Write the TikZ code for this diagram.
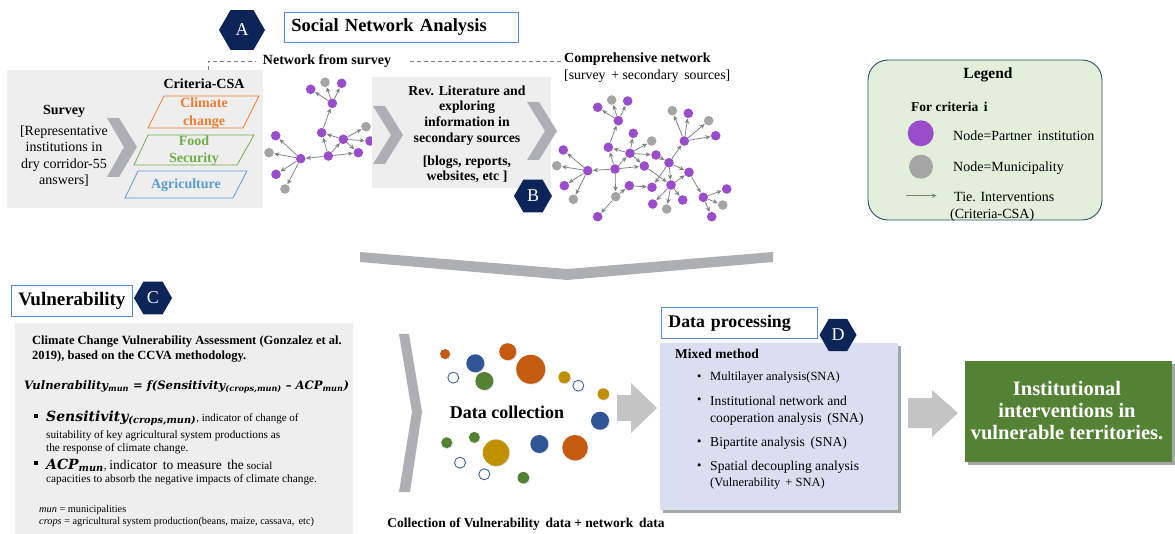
\documentclass[tikz,border=0pt]{standalone}
\usepackage{fontspec}
\setmainfont{Liberation Serif}
\newfontfamily\fbi{DejaVu Serif}
\usetikzlibrary{shapes.geometric,arrows.meta,shadows}
\definecolor{navy}{HTML}{0C2457}
\definecolor{tbblue}{HTML}{5B8BD0}
\definecolor{lgray}{HTML}{EEEEEE}
\definecolor{chev}{HTML}{ADAFB2}
\definecolor{purp}{HTML}{9A4DCB}
\definecolor{ngray}{HTML}{A5A5A5}
\definecolor{tiegray}{HTML}{7F7F7F}
\definecolor{orng}{HTML}{ED7D31}
\definecolor{grn}{HTML}{70AD47}
\definecolor{blu}{HTML}{5B9BD5}
\definecolor{leggreen}{HTML}{E2EFDA}
\definecolor{legborder}{HTML}{2E4A6B}
\definecolor{dor}{HTML}{C55A11}
\definecolor{dbl}{HTML}{2F5597}
\definecolor{dgr}{HTML}{548235}
\definecolor{dye}{HTML}{BF9000}
\definecolor{lav}{HTML}{D9DEF0}
\definecolor{arrgray}{HTML}{C4C4C4}
\tikzset{
  hexa/.style={regular polygon, regular polygon sides=6, fill=navy, draw=none, text=white, inner sep=0pt, font=\fontsize{18}{18}\selectfont},
  titlebox/.style={draw=tbblue, line width=0.9pt, fill=white, anchor=north west, inner xsep=7pt, inner ysep=0pt, align=left},
  netnode/.style={circle, inner sep=0pt, minimum size=9.6pt, draw=none},
  tie/.style={draw=tiegray, line width=0.75pt, -{Stealth[length=5pt,width=4.4pt]}, shorten >=0.3pt},
  chevshape/.style={fill=chev, draw=none},
  txt/.style={inner sep=0pt, font=\fontsize{13.5}{16}\selectfont},
  btxt/.style={inner sep=0pt, font=\fontsize{13.5}{16}\selectfont\bfseries},
  small/.style={inner sep=0pt, anchor=west, font=\fontsize{11}{13}\selectfont},
  dot/.style={circle, inner sep=0pt, draw=none},
  hollow/.style={circle, inner sep=0pt, draw=dbl, line width=0.8pt, fill=white, minimum size=11pt},
  dashline/.style={draw=gray, dashed, line width=0.7pt, dash pattern=on 4pt off 3pt},
  blockarrow/.style={fill=arrgray, draw=none},
}
\newcommand\vbi{\fbi\bfseries\itshape}
\begin{document}
\begin{tikzpicture}[x=1pt,y=-1pt]
\useasboundingbox (0,0) rectangle (1175,534);

% ---------------- Top: Social network analysis
\node[hexa, minimum size=46pt] (hexA) at (242,30) {A};
\node[titlebox, minimum width=234pt, minimum height=30pt, text width=220pt, font=\fontsize{18.5}{20}\selectfont\bfseries] (snatitle) at (284,12) {Social Network Analysis};

% survey box
\fill[lgray] (7,70) rectangle (263,208);
\node[btxt, font=\fontsize{14}{16}\selectfont\bfseries] (survey) at (64,111) {Survey};
\node[txt, align=center, font=\fontsize{14}{16.3}\selectfont] (surveytxt) at (64,156) {[Representative\\institutions in\\dry corridor-55\\answers]};
\fill[chevshape] (107,118) -- (119,118) -- (137,147) -- (119,177) -- (107,177) -- (124,147) -- cycle;
\node[btxt, font=\fontsize{14}{16}\selectfont\bfseries] (crit) at (204,84) {Criteria-CSA};
\draw[orng, line width=0.8pt] (164,96) -- (259,96) -- (243,128) -- (148,128) -- cycle;
\node[btxt, align=center, text=orng, font=\fontsize{14}{17.5}\selectfont\bfseries] (cc) at (204,113) {Climate\\change};
\draw[grn, line width=0.8pt] (148,135) -- (254,135) -- (237,165) -- (134,165) -- cycle;
\node[btxt, align=center, text=grn, font=\fontsize{14}{17}\selectfont\bfseries] (fs) at (194,150.5) {Food\\Security};
\draw[blu, line width=0.8pt] (138,171) -- (247,171) -- (233,198) -- (125,198) -- cycle;
\node[btxt, text=blu, font=\fontsize{14}{16}\selectfont\bfseries] (agr) at (186,185) {Agriculture};

% dashed leaders
\coordinate (d1a) at (208,70);
\coordinate (d1b) at (208,61);
\coordinate (d1c) at (256,61);
\draw[dashline] (d1a) -- (d1b) -- (d1c);
\node[btxt, font=\fontsize{14}{15}\selectfont\bfseries] (netsurvey) at (327,61) {Network from survey};
\coordinate (d2a) at (410,61);
\coordinate (d2b) at (562,61);
\draw[dashline] (d2a) -- (d2b);
\node[btxt, anchor=west, font=\fontsize{14}{15}\selectfont\bfseries] (compnet) at (564,59) {Comprehensive network};
\node[txt, anchor=west, font=\fontsize{13.8}{15}\selectfont] (compsub) at (564,76) {[survey \,+ secondary \,sources]};

% network 1
\foreach \n/\x/\y/\c in {1/310.7/89.3/purp, 2/325/82.3/ngray, 3/341.7/83.3/purp, 4/332.3/103.3/purp, 5/321.7/132.7/purp, 6/366/126.7/ngray, 7/343.3/139.3/purp, 8/370/141/purp, 9/358.3/152.7/purp, 10/328.3/156/purp, 11/300.7/158.7/purp, 12/275.7/135.7/purp, 13/269/152.7/ngray, 14/276/174.3/purp, 15/285/189/ngray}
  \node[netnode, fill=\c] (n\n) at (\x,\y) {};
\foreach \a/\b in {4/1, 4/2, 4/3, 5/4, 7/5, 10/5, 10/7, 7/6, 7/8, 7/9, 10/9, 10/11, 11/12, 11/13, 11/14, 11/15}
  \draw[tie] (n\a) -- (n\b);

% box B
\fill[lgray] (372,77) rectangle (551,188);
\fill[chevshape] (373,106) -- (385,106) -- (403,135) -- (385,164) -- (373,164) -- (391,135) -- cycle;
\fill[chevshape] (527,102) -- (539,102) -- (557,131) -- (539,160) -- (527,160) -- (545,131) -- cycle;
\node[btxt, align=center, font=\fontsize{13.8}{15.6}\selectfont\bfseries] (revlit) at (467,115.5) {Rev. Literature and\\exploring\\information in\\secondary sources};
\node[btxt, align=center, font=\fontsize{13.8}{15.5}\selectfont\bfseries] (blogs) at (467,169.5) {[blogs, reports,\\websites, etc ]};
\node[hexa, minimum size=38pt] (hexB) at (533,196) {B};

% network 2
\foreach \n/\x/\y/\c in {1/597.7/107.3/purp, 2/611.7/100/ngray, 3/627.7/101/purp, 4/618.3/120.7/purp, 5/633.3/133.3/purp, 6/651.7/141/ngray, 7/608.3/147.3/purp, 8/630/153.3/purp, 9/656/155/purp, 10/563.3/150/purp, 11/556.7/165.7/ngray, 12/587.7/170.7/purp, 13/615/169/purp, 14/644.3/166/purp, 15/564.3/185.7/purp, 16/573.3/199.3/ngray, 17/615.7/196.7/ngray, 18/629.3/185.7/purp, 19/597.7/216.7/purp, 20/652/187.3/purp, 21/669/162.7/purp, 22/671/185/purp, 23/689/172.3/purp, 24/684.3/141/purp, 25/672.3/110.7/ngray, 26/688.3/113.3/purp, 27/708.7/120.7/ngray, 28/715.7/135.7/purp, 29/652.7/204/purp, 30/666.7/209/ngray, 31/682.7/200/purp, 32/703.3/197.3/purp, 33/726.7/189/purp, 34/722.7/205/ngray, 35/711.7/216.7/purp}
  \node[netnode, fill=\c] (m\n) at (\x,\y) {};
\foreach \a/\b in {4/1, 4/2, 4/3, 7/4, 8/5, 8/6, 8/7, 13/7, 13/8, 8/9, 9/21, 13/12, 12/10, 12/11, 12/15, 12/16, 13/14, 13/17, 17/18, 17/19, 18/20, 8/14, 21/24, 24/25, 24/26, 24/27, 24/28, 21/23, 21/20, 21/22, 14/22, 22/23, 22/29, 22/30, 22/31, 23/32, 32/33, 32/34, 32/35}
  \draw[tie] (m\a) -- (m\b);

% legend
\node[draw=legborder, fill=leggreen, rounded corners=20pt, line width=0.9pt, minimum width=234pt, minimum height=160pt, inner sep=0pt] (legend) at (985,140) {};
\node[btxt, font=\fontsize{15.5}{18}\selectfont\bfseries] (legtitle) at (988,75) {Legend};
\node[btxt, anchor=west, font=\fontsize{13.5}{15}\selectfont\bfseries] (forcrit) at (911,107) {For criteria \,i};
\node[dot, fill=purp, minimum size=26pt] (legp) at (920.7,133.3) {};
\node[txt, anchor=west, font=\fontsize{14}{15}\selectfont] (legptxt) at (953,136) {Node=Partner \,institution};
\node[dot, fill=ngray, minimum size=24pt] (legg) at (921,166.7) {};
\node[txt, anchor=west, font=\fontsize{14}{15}\selectfont] (leggtxt) at (953,168) {Node=Municipality};
\coordinate (la1) at (906,195.7);
\coordinate (la2) at (937,195.7);
\draw[tie] (la1) -- (la2);
\node[txt, anchor=west, font=\fontsize{14}{15}\selectfont] (legttxt) at (954,197) {Tie. Interventions};
\node[txt, anchor=west, font=\fontsize{14}{15}\selectfont] (legttxt2) at (950,215) {(Criteria-CSA)};

% big downward chevron
\fill[chevshape] (360,252) -- (567,269) -- (773,252) -- (773,262) -- (567,280) -- (360,262) -- cycle;

% ---------------- Vulnerability
\node[titlebox, minimum width=121pt, minimum height=31pt, text width=107pt, font=\fontsize{19}{20}\selectfont\bfseries] (vultitle) at (11,285) {Vulnerability};
\node[hexa, minimum size=38pt] (hexC) at (153,298) {C};
\fill[lgray] (15,323) rectangle (353,534);
\node[small, font=\fontsize{12.5}{13}\selectfont\bfseries] (v1) at (32,342) {Climate Change Vulnerability Assessment (Gonzalez et al.};
\node[small, font=\fontsize{12.5}{13}\selectfont\bfseries] (v2) at (32,357) {2019), based on the CCVA methodology.};
\node[small, font=\fontsize{11.6}{14}\selectfont\vbi] (formula) at (24,387) {Vulnerability\textsubscript{mun} \textup{=} f(Sensitivity\textsubscript{(crops,mun)} \textup{–} ACP\textsubscript{mun})};
\node[fill=black, inner sep=0pt, minimum size=4pt] (sq1) at (36,416) {};
\node[small] (b1) at (46,418) {{\fontsize{14}{16}\selectfont\vbi Sensitivity\textsubscript{(crops,mun)}}, indicator of change of};
\node[small, font=\fontsize{11.3}{13}\selectfont] (b1b) at (46,436) {suitability of key agricultural system productions as};
\node[small, font=\fontsize{11.3}{13}\selectfont] (b1c) at (46,449) {the response of climate change.};
\node[fill=black, inner sep=0pt, minimum size=4pt] (sq2) at (36,463) {};
\node[small] (b2) at (46,465) {{\fontsize{14}{16}\selectfont\vbi ACP\textsubscript{mun}}, {\fontsize{13.5}{15}\selectfont indicator \,to measure \,the} social};
\node[small, font=\fontsize{11.3}{13}\selectfont] (b2b) at (46,480) {capacities to absorb the negative impacts of climate change.};
\node[small, font=\fontsize{10.3}{11}\selectfont] (f1) at (39,510) {\textit{mun} = municipalities};
\node[small, font=\fontsize{10.3}{11}\selectfont] (f2) at (39,522) {\textit{crops} = agricultural system production(beans, maize, cassava, \,etc)};

% ---------------- Data collection
\fill[chevshape] (399,334) -- (409,334) -- (422,412) -- (410,492) -- (399,492) -- (412,412) -- cycle;
\foreach \i/\x/\y/\r/\c in {1/445/354/10/dor, 2/475.3/363.3/18/dbl, 3/484.3/381/18/dgr, 4/507.7/351.7/17/dor, 5/530.7/369.3/29/dor, 6/564.3/377.3/12/dye, 7/603.3/394/11.5/dye, 8/600/420.7/18/dbl, 9/446.7/442.7/11/dgr, 10/474.3/437.3/11/dgr, 11/496/452.7/26.5/dye, 12/539.3/444/18/dbl, 13/575/447.7/25.5/dor, 14/523.3/477.7/11.5/dgr}
  \node[dot, fill=\c, minimum size=\r pt, drop shadow={opacity=0.25, shadow xshift=0.8pt, shadow yshift=-0.8pt}] (c\i) at (\x,\y) {};
\foreach \i/\x/\y in {1/453.3/377.7, 2/578.3/385.7, 3/460/462.7, 4/484.3/474.3}
  \node[hollow] (h\i) at (\x,\y) {};
\node[btxt, font=\fontsize{18}{20}\selectfont\bfseries] (datacol) at (507,412) {Data collection};
\fill[blockarrow] (617,395) -- (631,395) -- (631,383) -- (657,408) -- (631,433) -- (631,421) -- (617,421) -- cycle;
\node[btxt, font=\fontsize{13.5}{15}\selectfont\bfseries] (colltxt) at (526,524) {Collection of Vulnerability \,data + network \,data};

% ---------------- Data processing
\fill[black!35] (663,346) rectangle (901,513);
\fill[lav] (660,343) rectangle (898,510);
\node[titlebox, minimum width=156pt, minimum height=31pt, text width=142pt, font=\fontsize{17.8}{20}\selectfont\bfseries] (dptitle) at (661,307) {Data processing};
\node[hexa, minimum size=37pt] (hexD) at (838,335) {D};
\node[small, font=\fontsize{13.5}{14}\selectfont\bfseries] (mixed) at (675,354) {Mixed method};
\node[small, font=\fontsize{12.5}{14}\selectfont] (dpi1) at (710,378) {Multilayer analysis(SNA)};
\node[small, font=\fontsize{13.6}{14}\selectfont] (dpi2) at (710,401) {Institutional network and};
\node[small, font=\fontsize{13.6}{14}\selectfont] (dpi3) at (710,419) {cooperation analysis \,(SNA)};
\node[small, font=\fontsize{13.6}{14}\selectfont] (dpi4) at (710,443) {Bipartite analysis \,(SNA)};
\node[small, font=\fontsize{13.6}{14}\selectfont] (dpi5) at (710,467) {Spatial decoupling analysis};
\node[small, font=\fontsize{12.5}{14}\selectfont] (dpi6) at (710,484) {(Vulnerability \,+ SNA)};
\foreach \i/\y in {1/378, 2/401, 4/443, 5/467}
  \node[small, font=\fontsize{12.5}{14}\selectfont] (bul\i) at (697,\y) {•};
\fill[blockarrow] (908,398) -- (932,398) -- (932,390) -- (958,413) -- (932,437) -- (932,428) -- (908,428) -- cycle;
\fill[black!35] (968,364) rectangle (1175,465);
\node[fill=dgr, minimum width=207pt, minimum height=101pt, anchor=north west, inner sep=0pt] (result) at (965,361) {};
\node[btxt, align=center, text=white, font=\fontsize{20.5}{22}\selectfont\bfseries] (restxt) at (1067,411) {Institutional\\interventions in\\vulnerable territories.};
\end{tikzpicture}
\end{document}
